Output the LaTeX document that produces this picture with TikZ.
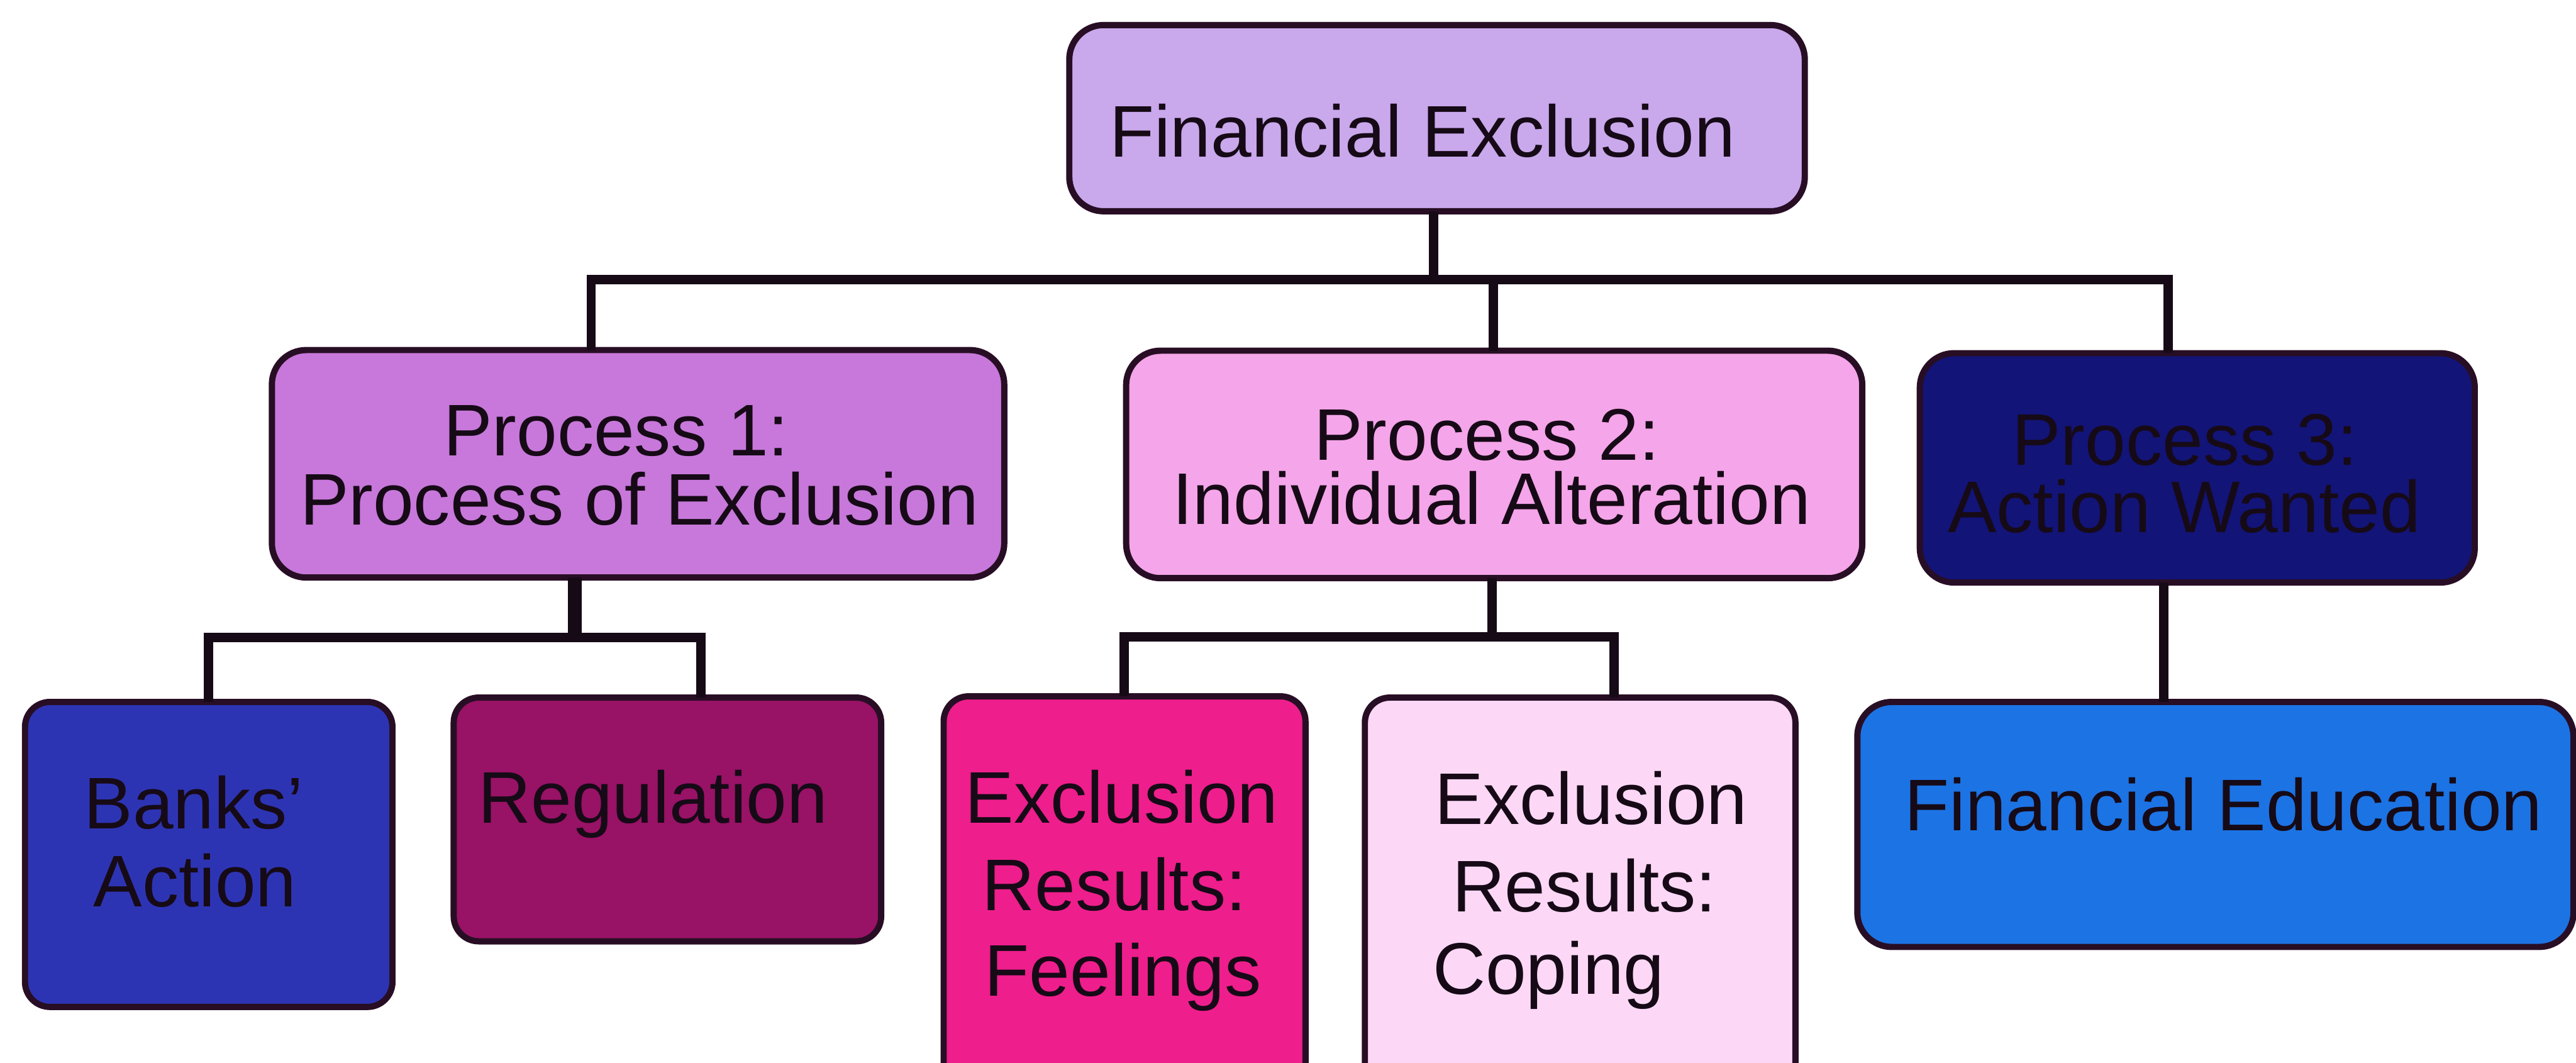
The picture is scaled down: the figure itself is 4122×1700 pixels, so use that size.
\documentclass[tikz,border=0pt]{standalone}
\usepackage{fontspec}
\setmainfont{Liberation Sans}

\definecolor{ink}{RGB}{22,10,22}
\definecolor{edge}{RGB}{40,14,36}
\definecolor{rootfill}{RGB}{201,168,236}
\definecolor{procone}{RGB}{199,120,218}
\definecolor{proctwo}{RGB}{245,165,233}
\definecolor{procthree}{RGB}{18,20,120}
\definecolor{banksfill}{RGB}{45,52,180}
\definecolor{regfill}{RGB}{152,18,102}
\definecolor{feelfill}{RGB}{238,30,140}
\definecolor{copefill}{RGB}{252,216,246}
\definecolor{edufill}{RGB}{28,115,228}

\newcommand\labfont{\fontsize{11.7pt}{11.7pt}\selectfont}

\begin{document}
\begin{tikzpicture}[x=0.1pt, y=-0.1pt,
  box/.style={draw=edge, line width=1pt, rounded corners=5.5pt,
              inner sep=0pt, outer sep=0pt},
  smallbox/.style={box, rounded corners=4pt},
  wire/.style={draw=ink, line width=1.5pt, line join=miter},
  lbl/.style={anchor=base, inner sep=0pt, font=\labfont, text=ink}]

% canvas
\fill[white] (0,0) rectangle (4122,1700);
\useasboundingbox (0,0) rectangle (4122,1700);
\clip (0,0) rectangle (4122,1700);

% boxes
\node[box, fill=rootfill, minimum width=117.7pt, minimum height=29.8pt] (root) at (2299.5,189) {};
\node[box, fill=procone, minimum width=117.2pt, minimum height=36.4pt] (pone) at (1021,742) {};
\node[box, fill=proctwo, minimum width=117.8pt, minimum height=36.4pt] (ptwo) at (2391,743) {};
\node[box, fill=procthree, minimum width=88.8pt, minimum height=36.7pt] (pthree) at (3516,748.5) {};
\node[smallbox, fill=banksfill, minimum width=58.8pt, minimum height=48.8pt] (banks) at (334,1367) {};
\node[smallbox, fill=regfill, minimum width=68.4pt, minimum height=39pt] (reg) at (1068,1311) {};
\node[smallbox, fill=feelfill, minimum width=57.9pt, minimum height=64.6pt] (feel) at (1799.5,1437) {};
\node[smallbox, fill=copefill, minimum width=68.9pt, minimum height=64.4pt] (cope) at (2528.5,1438) {};
\node[box, fill=edufill, minimum width=114.6pt, minimum height=39.2pt] (edu) at (3545,1319) {};

% junction points of the connectors
\coordinate (jroot) at (2294,447);
\coordinate (bone) at (946,447);
\coordinate (btwo) at (2390,447);
\coordinate (bthree) at (3469,447);
\coordinate (sone) at (920,1020);
\coordinate (kbanks) at (334,1020);
\coordinate (kreg) at (1122,1020);
\coordinate (stwo) at (2388,1019);
\coordinate (kfeel) at (1799,1019);
\coordinate (kcope) at (2583,1019);
\coordinate (sthree) at (3462,1000);

% connectors
\draw[wire] (jroot |- root.south) -- (jroot);
\draw[wire] (bone |- pone.north) -- (bone) -- (bthree) -- (bthree |- pthree.north);
\draw[wire] (btwo) -- (btwo |- ptwo.north);
\draw[wire, line width=2.2pt] (sone |- pone.south) -- (sone);
\draw[wire] (kbanks |- banks.north) -- (kbanks) -- (kreg) -- (kreg |- reg.north);
\draw[wire] (stwo |- ptwo.south) -- (stwo);
\draw[wire] (kfeel |- feel.north) -- (kfeel) -- (kcope) -- (kcope |- cope.north);
\draw[wire] (sthree |- pthree.south) -- (sthree |- edu.north);

% labels
\node[lbl] (troot) at (2276,251) {Financial Exclusion};
\node[lbl] (tpone-a) at (986,729) {Process 1:};
\node[lbl] (tpone-b) at (1023,840) {Process of Exclusion};
\node[lbl] (tptwo-a) at (2379,736) {Process 2:};
\node[lbl] (tptwo-b) at (2387,839) {Individual Alteration};
\node[lbl] (tpthree-a) at (3496,744) {Process 3:};
\node[lbl] (tpthree-b) at (3495,852) {Action Wanted};
\node[lbl] (tbanks-a) at (310,1326) {Banks’};
\node[lbl] (tbanks-b) at (312,1451) {Action};
\node[lbl] (treg) at (1045,1317) {Regulation};
\node[lbl] (tfeel-a) at (1795,1317) {Exclusion};
\node[lbl] (tfeel-b) at (1783,1457) {Results:};
\node[lbl] (tfeel-c) at (1797,1594) {Feelings};
\node[lbl] (tcope-a) at (2546,1319) {Exclusion};
\node[lbl] (tcope-b) at (2535,1459) {Results:};
\node[lbl] (tcope-c) at (2478,1590) {Coping};
\node[lbl] (tedu) at (3558,1329) {Financial Education};
\end{tikzpicture}
\end{document}
